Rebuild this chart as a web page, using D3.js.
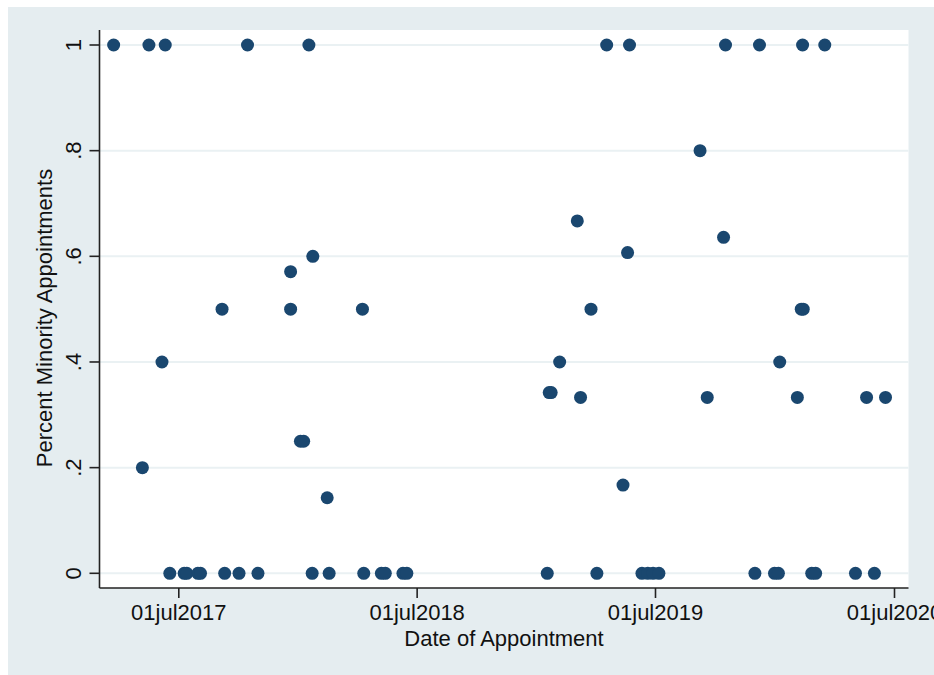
<!DOCTYPE html>
<html>
<head>
<meta charset="utf-8">
<script src="https://cdn.jsdelivr.net/npm/d3@7"></script>
<style>
  body { margin: 0; background: #fff; }
  svg { display: block; font-family: "Liberation Sans", Arial, Helvetica, sans-serif; }
</style>
</head>
<body>
<svg id="chart" width="934" height="675"></svg>
<script>
// appointment dates and share of minority appointees
var appointmentDates = [
    "2017-03-24", "2017-05-17", "2017-06-11", "2017-10-15", "2018-01-17",
    "2019-04-18", "2019-05-23", "2019-10-17", "2019-12-08", "2020-02-12", "2020-03-17",
    "2017-05-07", "2017-06-06", "2017-09-06", "2017-12-20", "2017-12-20",
    "2018-01-04", "2018-01-09", "2018-01-23", "2018-02-14", "2018-04-09",
    "2019-01-20", "2019-01-23", "2019-02-05", "2019-03-04", "2019-03-09",
    "2019-03-25", "2019-05-13", "2019-05-20", "2019-09-08", "2019-09-19",
    "2019-10-14", "2020-01-08", "2020-02-04", "2020-02-10", "2020-02-13",
    "2020-05-20", "2020-06-18",
    "2017-06-18", "2017-07-10", "2017-07-14", "2017-07-31", "2017-08-04",
    "2017-09-10", "2017-10-02", "2017-10-31", "2018-01-22", "2018-02-17",
    "2018-04-11", "2018-05-08", "2018-05-14", "2018-06-10", "2018-06-16",
    "2019-01-17", "2019-04-03", "2019-06-11", "2019-06-20", "2019-06-28",
    "2019-07-07", "2019-12-01", "2019-12-31", "2020-01-06", "2020-02-26",
    "2020-03-03", "2020-05-03", "2020-06-01"
];
var pctMinority = [
    1, 1, 1, 1, 1,
    1, 1, 1, 1, 1, 1,
    .2, .4, .5, .571, .5,
    .25, .25, .6, .143, .5,
    .342, .342, .4, .667, .333,
    .5, .167, .607, .8, .333,
    .636, .4, .333, .5, .5,
    .333, .333,
    0, 0, 0, 0, 0,
    0, 0, 0, 0, 0,
    0, 0, 0, 0, 0,
    0, 0, 0, 0, 0,
    0, 0, 0, 0, 0,
    0, 0, 0
];

var yTicks = [0, .2, .4, .6, .8, 1];
var yTickLabels = ["0", ".2", ".4", ".6", ".8", "1"];
var xTickDates = ["2017-07-01", "2018-07-01", "2019-07-01", "2020-07-01"];
var xTickLabels = ["01jul2017", "01jul2018", "01jul2019", "01jul2020"];

var parseDate = d3.timeParse("%Y-%m-%d");

var svg = d3.select("#chart");

// plot region edges (don't call these top/left, window.top is read only)
var plotLeft = 99.5, plotRight = 908.5, plotTop = 30, plotBottom = 588;

var x = d3.scaleTime()
    .domain([parseDate(xTickDates[0]), parseDate(xTickDates[3])])
    .range([178.3, 894]);

var y = d3.scaleLinear()
    .domain([0, 1])
    .range([573.3, 45]);

// graph region + plot region
svg.append("rect")
    .attr("x", 8).attr("y", 7)
    .attr("width", 926).attr("height", 668)
    .attr("fill", "#e5edf0");

svg.append("rect")
    .attr("x", plotLeft).attr("y", plotTop)
    .attr("width", plotRight - plotLeft).attr("height", plotBottom - plotTop)
    .attr("fill", "#fff");

// gridlines
svg.selectAll(".grid")
    .data(yTicks)
    .enter().append("line")
    .attr("class", "grid")
    .attr("x1", plotLeft).attr("x2", plotRight)
    .attr("y1", function(d) { return y(d); })
    .attr("y2", function(d) { return y(d); })
    .attr("stroke", "#eaf1f3")
    .attr("stroke-width", 2);

// y axis
var yAxis = d3.axisLeft(y)
    .tickValues(yTicks)
    .tickFormat(function(d, i) { return yTickLabels[i]; })
    .tickSize(10)
    .tickPadding(0);

var gy = svg.append("g")
    .attr("transform", "translate(" + plotLeft + ",0)")
    .call(yAxis);
gy.select(".domain").attr("d", "M0," + plotTop + "V" + plotBottom);
gy.selectAll("line, path").attr("stroke", "#222").attr("stroke-width", 1.6);
gy.selectAll(".tick").attr("transform", null);
gy.selectAll(".tick line")
    .attr("y1", function(d) { return y(d); })
    .attr("y2", function(d) { return y(d); });
gy.selectAll("text")
    .attr("x", 0).attr("y", 0).attr("dy", null)
    .attr("transform", function(d) { return "translate(-19," + y(d) + ") rotate(-90)"; })
    .attr("text-anchor", "middle")
    .attr("font-size", 22)
    .attr("fill", "#111")
    .attr("font-family", null);

// x axis
var xAxis = d3.axisBottom(x)
    .tickValues(xTickDates.map(parseDate))
    .tickFormat(function(d, i) { return xTickLabels[i]; })
    .tickSize(10)
    .tickPadding(6);

var gx = svg.append("g")
    .attr("transform", "translate(0," + plotBottom + ")")
    .call(xAxis);
gx.select(".domain").attr("d", "M" + plotLeft + ",0H" + plotRight);
gx.selectAll("line, path").attr("stroke", "#222").attr("stroke-width", 1.6);
gx.selectAll("text")
    .attr("font-size", 22)
    .attr("fill", "#111")
    .attr("font-family", null);

// axis titles
svg.append("text")
    .attr("x", (plotLeft + plotRight) / 2)
    .attr("y", 646)
    .attr("text-anchor", "middle")
    .attr("font-size", 22)
    .attr("fill", "#111")
    .text("Date of Appointment");

svg.append("text")
    .attr("transform", "translate(52,318) rotate(-90)")
    .attr("text-anchor", "middle")
    .attr("font-size", 22)
    .attr("fill", "#111")
    .text("Percent Minority Appointments");

// markers
svg.append("g").selectAll("circle")
    .data(appointmentDates)
    .enter().append("circle")
    .attr("cx", function(d) { return x(parseDate(d)); })
    .attr("cy", function(d, i) { return y(pctMinority[i]); })
    .attr("r", 6.5)
    .attr("fill", "#1a476f");
</script>
</body>
</html>
